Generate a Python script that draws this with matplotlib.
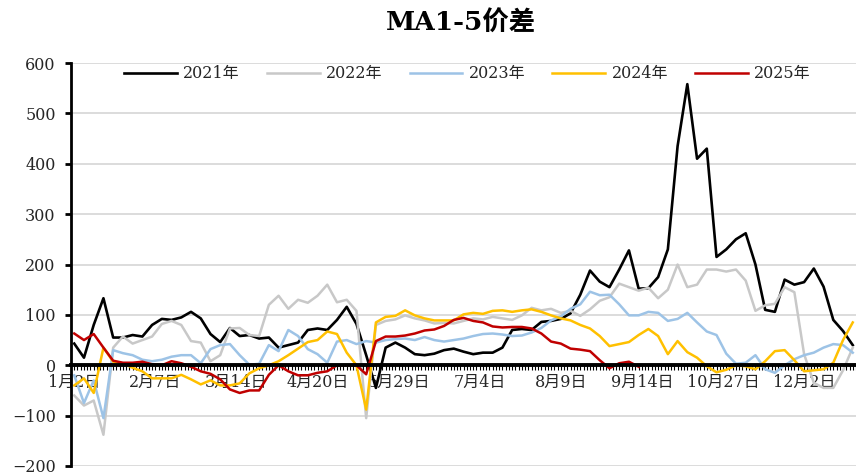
import matplotlib
matplotlib.use('Agg')
import matplotlib.pyplot as plt
import numpy as np

# serif digits like the source, CJK fallback for 月/日/年/价差
plt.rcParams['font.family'] = ['DejaVu Serif', 'Noto Sans CJK SC']
plt.rcParams['axes.unicode_minus'] = True

# trading-day index, sampled every 3 days
days = np.arange(0, 241, 3)

y2021 = [43, 15, 80, 133, 55, 55, 60, 57, 80, 92, 90, 95, 106, 93, 62, 46, 74, 58, 60, 53,
         55, 35, 40, 45, 70, 73, 70, 90, 116, 82, 20, -45, 35, 45, 35, 22, 20, 23, 30, 33,
         27, 22, 25, 25, 35, 70, 72, 70, 86, 88, 92, 103, 140, 188, 166, 155, 190, 228, 152, 153,
         175, 230, 435, 558, 410, 430, 215, 230, 250, 262, 200, 110, 106, 170, 160, 165, 192, 156, 90, 68,
         40]
y2022 = [-60, -80, -70, -138, 35, 57, 43, 50, 57, 82, 88, 80, 48, 45, 8, 20, 73, 74, 60, 58,
         120, 138, 112, 130, 124, 138, 160, 125, 130, 108, -105, 80, 88, 91, 99, 93, 89, 83, 84, 83,
         88, 93, 91, 96, 93, 90, 99, 114, 109, 112, 104, 108, 98, 111, 128, 135, 162, 155, 148, 154,
         133, 150, 200, 155, 160, 190, 190, 186, 190, 168, 108, 119, 122, 155, 145, 22, -35, -45, -45, -10,
         35]
y2023 = [-20, -75, -30, -105, 30, 24, 20, 11, 8, 11, 17, 20, 20, 4, 32, 40, 42, 20, 1, 3,
         40, 28, 70, 58, 32, 22, 5, 47, 50, 42, 48, 45, 50, 52, 53, 50, 56, 50, 47, 50,
         53, 58, 62, 63, 61, 58, 59, 65, 74, 89, 97, 112, 121, 146, 139, 140, 121, 99, 99, 106,
         104, 88, 92, 104, 85, 67, 60, 23, 3, 5, 20, -8, -15, 0, 12, 20, 25, 35, 42, 40,
         25]
y2024 = [-40, -26, -55, 35, 7, 4, -5, -12, -26, -26, -26, -19, -28, -38, -30, -40, -40, -36, -16, -6,
         0, 8, 20, 33, 46, 50, 67, 62, 25, 0, -88, 85, 96, 98, 109, 99, 93, 89, 89, 89,
         101, 104, 102, 108, 109, 106, 109, 111, 106, 99, 93, 89, 80, 73, 58, 38, 42, 46, 60, 72,
         58, 22, 48, 26, 15, -2, -14, -9, 0, -2, -8, 8, 28, 30, 10, -12, -10, -8, 5, 50,
         85]
y2025 = [63, 50, 62, 35, 9, 5, 5, 7, 2, 0, 8, 4, -3, -12, -17, -28, -48, -55, -50, -50,
         -19, 0, -12, -20, -20, -15, -12, 0, 0, 0, -18, 48, 57, 57, 59, 63, 69, 71, 78, 90,
         94, 88, 85, 77, 75, 76, 76, 73, 63, 47, 43, 33, 31, 28, 10, -6, 4, 7, -3]

tick_days = [0, 25, 50, 75, 100, 125, 150, 175, 200, 225]
tick_labels = ['1月2日', '2月7日', '3月14日', '4月20日', '5月29日',
               '7月4日', '8月9日', '9月14日', '10月27日', '12月2日']

fig = plt.figure(figsize=(8.56, 4.75), dpi=100)
ax = fig.add_axes([71 / 856, 9 / 475, 785 / 856, 403 / 475])

ax.plot(days, y2021, color='black', lw=1.9, label='2021年')
ax.plot(days, y2022, color='#c8c8c8', lw=1.8, label='2022年')
ax.plot(days, y2023, color='#9dc3e6', lw=1.8, label='2023年')
ax.plot(days, y2024, color='#ffc000', lw=1.8, label='2024年')
ax.plot(days[:len(y2025)], y2025, color='#c00000', lw=1.8, label='2025年')

ax.set_xlim(-1, 241)
ax.set_ylim(-200, 600)
ax.set_yticks(np.arange(-200, 601, 100))

# horizontal grid
ax.yaxis.grid(True, color='#d9d9d9', lw=1.3)
ax.set_axisbelow(True)

# spines: left axis and category axis sitting on zero
ax.spines['top'].set_visible(False)
ax.spines['right'].set_visible(False)
ax.spines['left'].set_linewidth(2)
ax.spines['bottom'].set_position(('data', 0))
ax.spines['bottom'].set_linewidth(2.8)
ax.spines['bottom'].set_zorder(3)

ax.set_xticks(tick_days)
ax.set_xticklabels(tick_labels)
ax.set_xticks(np.arange(0, 242), minor=True)
ax.tick_params(axis='x', which='both', direction='out', length=3.5, width=0.8,
               color='black', labelsize=11.5, pad=3)
ax.tick_params(axis='y', direction='out', length=4, width=2, labelsize=11.5, pad=7)
for t in ax.get_xticklabels():
    t.set_color('#262626')
for t in ax.get_yticklabels():
    t.set_color('#262626')

leg = ax.legend(loc='upper center', bbox_to_anchor=(0.505, 1.03), ncol=5, frameon=False,
                fontsize=11.5, handlelength=3.3, handletextpad=0.4, columnspacing=1.7)
for t in leg.get_texts():
    t.set_color('#262626')

fig.text(461 / 856, 1 - 23.5 / 475, 'MA1-5价差', ha='center', va='center',
         fontsize=19, fontweight='bold')

fig.savefig('out.png', dpi=100)
